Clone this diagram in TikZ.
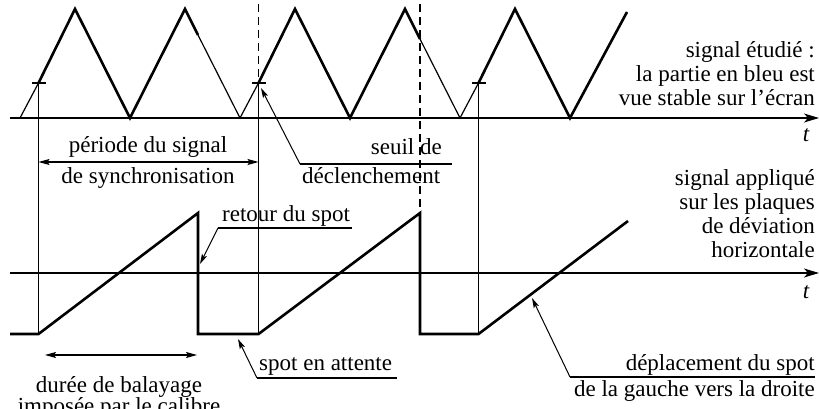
\documentclass[tikz,border=0pt]{standalone}
\usepackage{fontspec}
\setmainfont{Liberation Serif}
\usetikzlibrary{arrows.meta,calc}
\tikzset{
  sig/.style={line width=2.6pt, line join=miter},
  thn/.style={line width=1.2pt},
  axe/.style={line width=1.2pt, -{Stealth[length=15pt,width=9pt,inset=4pt]}},
  dim/.style={line width=1.1pt, {Stealth[length=11pt,width=6pt,inset=2pt]}-{Stealth[length=11pt,width=6pt,inset=2pt]}},
  lead/.style={line width=1pt, -{Stealth[length=10pt,width=5.5pt,inset=2pt]}},
  txt/.style={inner sep=0pt, font=\fontsize{23}{24}\selectfont}}

\begin{document}
\begin{tikzpicture}[x=1pt, y=-1pt]
\clip (0,0) rectangle (819,409);
% axes
\coordinate (o1) at (10,118); \coordinate (e1) at (819,118);
\coordinate (o2) at (10,273); \coordinate (e2) at (819,273);
\draw[axe] (o1) -- (e1);
\draw[axe] (o2) -- (e2);
\node[txt, anchor=base east] (t1) at (810,142) {\textit{t}};
\node[txt, anchor=base east] (t2) at (810,298) {\textit{t}};
% trigger points and sweep ends
\coordinate (s1) at (38.5,83); \coordinate (s2) at (258.5,83); \coordinate (s3) at (478.5,83);
\coordinate (r1) at (198,213); \coordinate (r2) at (420,213);
% signal studied
\draw[thn] (20,118) -- (s1);
\draw[sig] (s1) -- (75,9) -- (130,118) -- (185,9) -- (198,35);
\draw[thn] (198,35) -- (240,118) -- (s2);
\draw[sig] (s2) -- (295,9) -- (350,118) -- (405,9) -- (420,39);
\draw[thn] (420,39) -- (460,118) -- (s3);
\draw[sig] (s3) -- (515,9) -- (570,118) -- (627,12);
\foreach \s in {s1,s2,s3} {
  \draw[thn] ($(\s)+(-7,0)$) -- ($(\s)+(7,0)$);
  \draw[thn] (\s) -- (\s |- 0,334);}
\draw[thn, dash pattern=on 8pt off 5pt] (258.5,4) -- (s2);
\draw[thn, dash pattern=on 8pt off 5pt] (420,4) -- (r2);
% sweep voltage
\draw[sig] (10,334) -- (s1 |- 0,334) -- (r1) -- (r1 |- 0,334) -- (s2 |- 0,334) -- (r2)
  -- (r2 |- 0,334) -- (s3 |- 0,334) -- (628,221);
% right-hand captions
\node[txt, anchor=north east, align=right] (cap1) at (815,41.5)
  {signal étudié :\\la partie en bleu est\\vue stable sur l’écran};
\node[txt, anchor=north east, align=right] (cap2) at (815,169.5)
  {signal appliqué\\sur les plaques\\de déviation\\horizontale};
% period of the sync signal
\coordinate (p1) at (38.5,162); \coordinate (p2) at (258.5,162);
\draw[dim] (p1) -- (p2);
\node[txt, anchor=base] (per1) at (148,153) {période du signal};
\node[txt, anchor=base] (per2) at (148,183) {de synchronisation};
% trigger level
\coordinate (u1) at (300,164); \coordinate (u2) at (452,164);
\draw[thn] (u1) -- (u2);
\draw[lead] (u1) -- (261,88);
\node[txt, anchor=base east] (seu1) at (442,154) {seuil de};
\node[txt, anchor=base west] (seu2) at (302,183) {déclenchement};
% spot return
\coordinate (v1) at (218,228); \coordinate (v2) at (352,228);
\draw[thn] (v1) -- (v2);
\draw[lead] (v1) -- (200,264);
\node[txt, anchor=base west] (ret) at (222,221) {retour du spot};
% waiting spot
\coordinate (w1) at (257,378); \coordinate (w2) at (397,378);
\draw[thn] (w1) -- (w2);
\draw[lead] (w1) -- (238,339);
\node[txt, anchor=base west] (att) at (259,370) {spot en attente};
% sweep duration
\coordinate (d1) at (45,355); \coordinate (d2) at (197,355);
\draw[dim] (d1) -- (d2);
\node[txt, anchor=base] (bal1) at (119,392) {durée de balayage};
\node[txt, anchor=base] (bal2) at (119,413) {imposée par le calibre};
% spot moving
\coordinate (m1) at (570,377); \coordinate (m2) at (815,377);
\draw[thn] (m1) -- (m2);
\draw[lead] (m1) -- (532,298);
\node[txt, anchor=base east] (dep1) at (815,370) {déplacement du spot};
\node[txt, anchor=base east] (dep2) at (815,396) {de la gauche vers la droite};
\end{tikzpicture}
\end{document}
